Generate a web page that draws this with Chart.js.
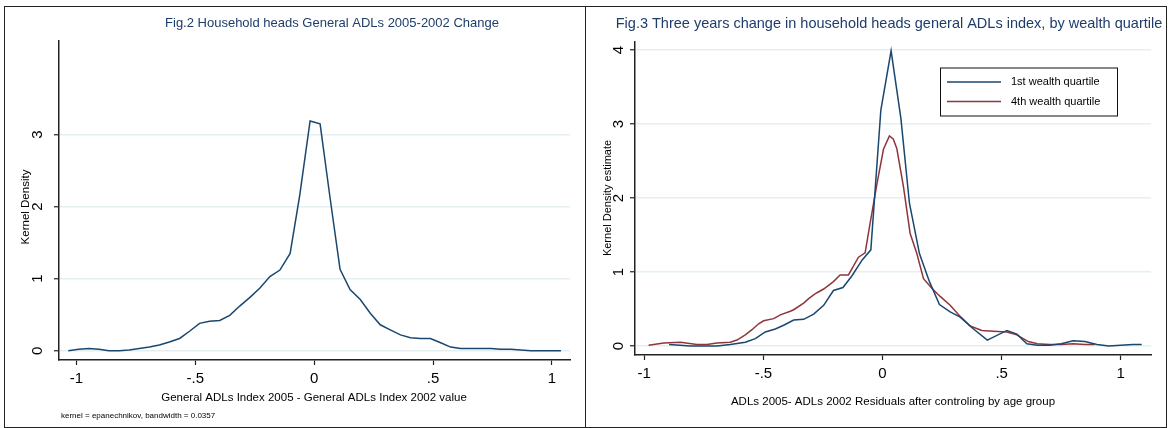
<!DOCTYPE html>
<html><head><meta charset="utf-8">
<script src="https://cdn.jsdelivr.net/npm/chart.js@4.4.1/dist/chart.umd.min.js"></script>
<style>
html,body{margin:0;padding:0;background:#fff;width:1171px;height:428px;overflow:hidden;}
canvas{position:absolute;top:0;}
#c1{left:0px}
#c2{left:586px}
.frame{position:absolute;border:1px solid #222;box-sizing:border-box;pointer-events:none}
</style></head><body>
<canvas id="c1" width="586" height="428"></canvas>
<canvas id="c2" width="585" height="428"></canvas>
<div class="frame" style="left:4px;top:6px;width:582px;height:422px"></div>
<div class="frame" style="left:585px;top:6px;width:582px;height:422px"></div>
<script>
// ---------- DATA ----------
// Fig.2: kernel density of change in general ADLs index
const fig2X = [-1.034,-0.990,-0.947,-0.905,-0.863,-0.820,-0.778,-0.736,-0.693,-0.651,-0.609,-0.566,-0.524,-0.482,-0.440,-0.397,-0.355,-0.313,-0.270,-0.228,-0.186,-0.144,-0.101,-0.061,-0.017,0.025,0.067,0.109,0.151,0.194,0.236,0.278,0.320,0.363,0.405,0.447,0.489,0.532,0.574,0.616,0.658,0.700,0.743,0.785,0.827,0.869,0.912,0.954,0.996,1.038];
const fig2Y = [0.00,0.02,0.03,0.02,0.00,0.00,0.01,0.03,0.05,0.08,0.12,0.17,0.27,0.38,0.41,0.42,0.49,0.62,0.74,0.87,1.03,1.12,1.35,2.15,3.19,3.15,2.12,1.13,0.85,0.71,0.52,0.36,0.29,0.22,0.18,0.17,0.17,0.11,0.05,0.03,0.03,0.03,0.03,0.02,0.02,0.01,0.00,0.00,0.00,0.00];

// Fig.3: 1st wealth quartile
const q1X = [-0.896,-0.850,-0.807,-0.750,-0.695,-0.639,-0.576,-0.534,-0.492,-0.450,-0.415,-0.373,-0.331,-0.289,-0.247,-0.206,-0.166,-0.128,-0.086,-0.049,-0.007,0.036,0.077,0.113,0.155,0.197,0.239,0.284,0.326,0.382,0.440,0.522,0.564,0.606,0.650,0.700,0.750,0.800,0.850,0.900,0.950,1.000,1.050,1.088];
const q1Y = [0.02,0.01,0.00,0.00,0.00,0.02,0.05,0.10,0.19,0.23,0.28,0.35,0.36,0.43,0.55,0.75,0.79,0.95,1.16,1.30,3.19,3.99,3.08,1.93,1.25,0.87,0.56,0.46,0.39,0.23,0.08,0.21,0.16,0.03,0.01,0.01,0.03,0.07,0.06,0.02,0.00,0.01,0.02,0.02];
// Fig.3: 4th wealth quartile
const q4X = [-0.982,-0.918,-0.848,-0.779,-0.737,-0.695,-0.639,-0.611,-0.576,-0.548,-0.520,-0.499,-0.457,-0.429,-0.387,-0.373,-0.331,-0.310,-0.289,-0.275,-0.247,-0.206,-0.178,-0.143,-0.101,-0.073,-0.052,-0.023,0.004,0.029,0.045,0.060,0.088,0.116,0.144,0.172,0.207,0.242,0.284,0.326,0.368,0.417,0.466,0.522,0.564,0.612,0.650,0.700,0.750,0.800,0.850,0.890];
const q4Y = [0.01,0.04,0.05,0.02,0.02,0.04,0.05,0.08,0.15,0.22,0.30,0.34,0.37,0.42,0.47,0.49,0.58,0.64,0.69,0.72,0.77,0.87,0.96,0.96,1.20,1.26,1.66,2.20,2.66,2.84,2.80,2.67,2.15,1.52,1.25,0.91,0.78,0.67,0.55,0.40,0.27,0.21,0.20,0.19,0.15,0.06,0.03,0.02,0.02,0.03,0.02,0.02];

// ticks
const xTicks = [-1, -0.5, 0, 0.5, 1];
const xTickLabels = ['-1', '-.5', '0', '.5', '1'];
const yTicks2 = [0, 1, 2, 3];
const yTickLabels2 = ['0', '1', '2', '3'];
const yTicks3 = [0, 1, 2, 3, 4];
const yTickLabels3 = ['0', '1', '2', '3', '4'];

// texts
const title2 = 'Fig.2 Household heads General ADLs 2005-2002 Change';
const xTitle2 = 'General ADLs Index 2005 - General ADLs Index 2002 value';
const yTitle2 = 'Kernel Density';
const note2 = 'kernel = epanechnikov, bandwidth = 0.0357';
const title3 = 'Fig.3 Three years change in household heads general ADLs index, by wealth quartile';
const xTitle3 = 'ADLs 2005- ADLs 2002 Residuals after controling by age group';
const yTitle3 = 'Kernel Density estimate';
const legendLabels = ['1st wealth quartile', '4th wealth quartile'];

// ---------- STYLE ----------
const FONT = "'Liberation Sans', Arial, Helvetica, sans-serif";
const NAVY = '#1a476f';
const MAROON = '#90353b';
const TITLE_COLOR = '#1e3d6b';
const GRID = '#e6eff0';
const AXIS = '#222';

Chart.defaults.font.family = FONT;
Chart.defaults.animation = false;

const toPts = (xs, ys) => xs.map((x, i) => ({x: x, y: ys[i]}));

function tickLabel(ticks, labels) {
  return function (v) { const i = ticks.indexOf(v); return i >= 0 ? labels[i] : ''; };
}

function scales(o) {
  return {
    x: {
      type: 'linear', min: o.xmin, max: o.xmax,
      afterBuildTicks: s => { s.ticks = xTicks.map(v => ({value: v})); },
      ticks: {callback: tickLabel(xTicks, xTickLabels), font: {size: 15}, color: '#000', padding: o.xpad, maxRotation: 0, minRotation: 0, autoSkip: false},
      grid: {drawOnChartArea: false, drawTicks: true, tickLength: 5, tickColor: AXIS, tickWidth: 1.2},
      border: {display: true, color: AXIS, width: 1.5},
      afterFit: s => { s.height = o.xh; }
    },
    y: {
      type: 'linear', min: o.ymin, max: o.ymax,
      afterBuildTicks: s => { s.ticks = o.yticks.map(v => ({value: v})); },
      ticks: {display: false},
      grid: {color: GRID, lineWidth: 1.5, drawTicks: true, tickLength: 5, tickColor: AXIS, tickWidth: 1.2},
      border: {display: true, color: AXIS, width: 1.5},
      afterFit: s => { s.width = o.yw; }
    }
  };
}

function text(ctx, str, x, y, size, color, align, rot) {
  ctx.save();
  ctx.font = size + 'px ' + FONT;
  ctx.fillStyle = color;
  ctx.textAlign = align || 'center';
  ctx.textBaseline = 'middle';
  ctx.translate(x, y);
  if (rot) ctx.rotate(rot);
  ctx.fillText(str, 0, 0);
  ctx.restore();
}

function yLabelsPlugin(ticks, labels, lx) {
  return {
    id: 'ylabels',
    afterDraw(chart) {
      const ys = chart.scales.y;
      ticks.forEach((v, i) => text(chart.ctx, labels[i], lx, ys.getPixelForValue(v), 15, '#000', 'center', -Math.PI / 2));
    }
  };
}

// ---------- Fig.2 ----------
new Chart(document.getElementById('c1'), {
  type: 'scatter',
  data: {datasets: [{data: toPts(fig2X, fig2Y), showLine: true, borderColor: NAVY, borderWidth: 1.5, pointRadius: 0, tension: 0}]},
  options: {
    responsive: false, devicePixelRatio: 1,
    layout: {padding: {left: 0, top: 41, right: 16, bottom: 0}},
    plugins: {legend: {display: false}, tooltip: {enabled: false}},
    scales: scales({xmin: -1.073, xmax: 1.076, ymin: -0.129, ymax: 4.30, yticks: yTicks2, yw: 59, xh: 68, xpad: 5})
  },
  plugins: [yLabelsPlugin(yTicks2, yTickLabels2, 38), {
    id: 'texts2',
    afterDraw(chart) {
      const ctx = chart.ctx;
      text(ctx, title2, 332, 23, 13, TITLE_COLOR);
      text(ctx, yTitle2, 26, 207, 11.5, '#000', 'center', -Math.PI / 2);
      text(ctx, xTitle2, 314, 398, 11.5, '#000');
      text(ctx, note2, 61, 416, 8, '#000', 'left');
    }
  }]
});

// ---------- Fig.3 ----------
const OFF = 586;
new Chart(document.getElementById('c2'), {
  type: 'scatter',
  data: {datasets: [
    {label: legendLabels[0], data: toPts(q1X, q1Y), showLine: true, borderColor: NAVY, borderWidth: 1.5, pointRadius: 0, tension: 0},
    {label: legendLabels[1], data: toPts(q4X, q4Y), showLine: true, borderColor: MAROON, borderWidth: 1.5, pointRadius: 0, tension: 0}
  ]},
  options: {
    responsive: false, devicePixelRatio: 1,
    layout: {padding: {left: 0, top: 42, right: 20, bottom: 0}},
    plugins: {legend: {display: false}, tooltip: {enabled: false}},
    scales: scales({xmin: -1.039, xmax: 1.127, ymin: -0.122, ymax: 4.11, yticks: yTicks3, yw: 49, xh: 73, xpad: 5})
  },
  plugins: [yLabelsPlugin(yTicks3, yTickLabels3, 619 - OFF), {
    id: 'texts3',
    afterDraw(chart) {
      const ctx = chart.ctx;
      text(ctx, title3, 889 - OFF, 24, 14.5, TITLE_COLOR);
      text(ctx, yTitle3, 608 - OFF, 198, 11, '#000', 'center', -Math.PI / 2);
      text(ctx, xTitle3, 893 - OFF, 402, 11.5, '#000');
      // legend
      const bx = 940 - OFF, by = 67.5, bw = 177, bh = 48;
      ctx.save();
      ctx.fillStyle = '#fff';
      ctx.fillRect(bx, by, bw, bh);
      ctx.strokeStyle = '#111';
      ctx.lineWidth = 1;
      ctx.strokeRect(bx + 0.5, by + 0.5, bw, bh);
      const cols = [NAVY, MAROON];
      const rows = [82, 101.5];
      rows.forEach((ry, i) => {
        ctx.strokeStyle = cols[i];
        ctx.lineWidth = 1.5;
        ctx.beginPath(); ctx.moveTo(947 - OFF, ry); ctx.lineTo(1001 - OFF, ry); ctx.stroke();
        text(ctx, legendLabels[i], 1011 - OFF, ry, 11, '#000', 'left');
      });
      ctx.restore();
    }
  }]
});
</script>
</body></html>
